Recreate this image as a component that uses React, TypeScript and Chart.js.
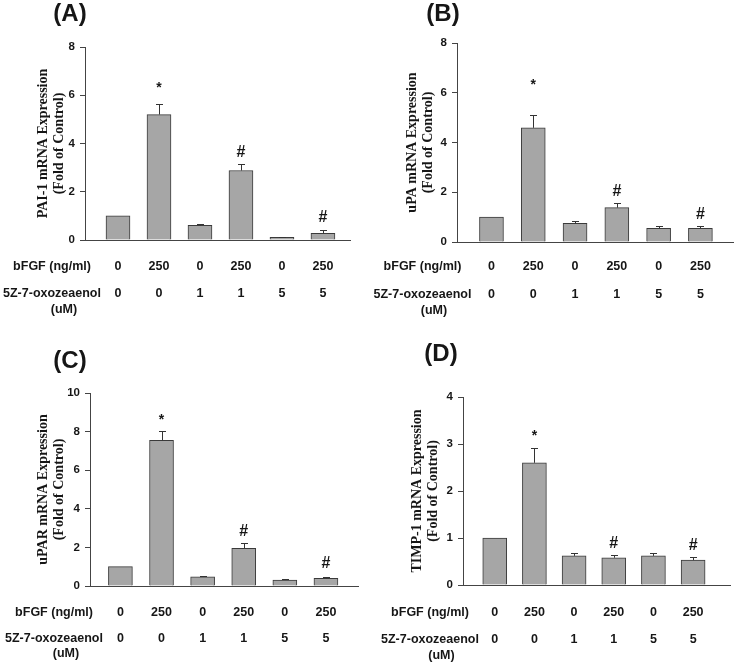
import React, { useEffect, useRef } from "react";
import { Chart, registerables } from "chart.js";

Chart.register(...registerables);

// ---- shared table rows ----
const groupIndex = [0, 1, 2, 3, 4, 5];
const bfgfLevels = ["0", "250", "0", "250", "0", "250"];
const inhibitorLevels = ["0", "0", "1", "1", "5", "5"];
const rowLabelBfgf = "bFGF (ng/ml)";
const rowLabelInhibitor = "5Z-7-oxozeaenol";
const rowLabelUnit = "(uM)";

// ---- (A) PAI-1 ----
const pai1Mean = [1.0, 5.2, 0.61, 2.88, 0.11, 0.28];
const pai1ErrTop = [null, 5.64, 0.66, 3.13, 0.14, 0.41];
const pai1Marks = ["", "*", "", "#", "", "#"];
const pai1MarkAt = [null, 6.41, null, 3.64, null, 0.91];

// ---- (B) uPA ----
const upaMean = [1.0, 4.59, 0.75, 1.38, 0.55, 0.55];
const upaErrTop = [null, 5.1, 0.84, 1.55, 0.64, 0.64];
const upaMarks = ["", "*", "", "#", "", "#"];
const upaMarkAt = [null, 6.43, null, 2.01, null, 1.09];

// ---- (C) uPAR ----
const uparMean = [1.0, 7.55, 0.47, 1.95, 0.31, 0.4];
const uparErrTop = [null, 8.02, 0.52, 2.24, 0.34, 0.45];
const uparMarks = ["", "*", "", "#", "", "#"];
const uparMarkAt = [null, 8.74, null, 2.81, null, 1.14];

// ---- (D) TIMP-1 ----
const timpMean = [1.0, 2.6, 0.62, 0.58, 0.62, 0.53];
const timpErrTop = [null, 2.92, 0.69, 0.64, 0.69, 0.59];
const timpMarks = ["", "*", "", "#", "", "#"];
const timpMarkAt = [null, 3.23, null, 0.89, null, 0.83];

const SANS = "'Liberation Sans', Arial, sans-serif";
const SERIF = "'Liberation Serif', 'Times New Roman', serif";
const INK = "#161616";

type Panel = {
  letter: string;
  yTitle: string[];
  mean: number[];
  errTop: (number | null)[];
  marks: string[];
  markAt: (number | null)[];
  yMax: number;
  yStep: number;
  // layout
  left: number;
  top: number;
  w: number;
  h: number;
  plotL: number;
  plotR: number;
  plotT: number;
  plotB: number;
  xMin: number;
  xMax: number;
  letterX: number;
  letterY: number;
  yTitleX: number;
  labelX: number;
  row1Y: number;
  row2Y: number;
  unitY: number;
  unitX: number;
};

const panels: Panel[] = [
  {
    letter: "(A)",
    yTitle: ["PAI-1 mRNA Expression", "(Fold of Control)"],
    mean: pai1Mean,
    errTop: pai1ErrTop,
    marks: pai1Marks,
    markAt: pai1MarkAt,
    yMax: 8,
    yStep: 2,
    left: 0, top: 0, w: 369, h: 330,
    plotL: 85, plotR: 350, plotT: 47, plotB: 240,
    xMin: -0.805, xMax: 5.66,
    letterX: 70, letterY: 14,
    yTitleX: 43,
    labelX: 52, row1Y: 267, row2Y: 294, unitY: 310, unitX: 64,
  },
  {
    letter: "(B)",
    yTitle: ["uPA mRNA Expression", "(Fold of Control)"],
    mean: upaMean,
    errTop: upaErrTop,
    marks: upaMarks,
    markAt: upaMarkAt,
    yMax: 8,
    yStep: 2,
    left: 369, top: 0, w: 369, h: 330,
    plotL: 88, plotR: 364, plotT: 43, plotB: 242,
    xMin: -0.825, xMax: 5.78,
    letterX: 74, letterY: 14,
    yTitleX: 43,
    labelX: 53.5, row1Y: 267, row2Y: 295, unitY: 311, unitX: 65,
  },
  {
    letter: "(C)",
    yTitle: ["uPAR mRNA Expression", "(Fold of Control)"],
    mean: uparMean,
    errTop: uparErrTop,
    marks: uparMarks,
    markAt: uparMarkAt,
    yMax: 10,
    yStep: 2,
    left: 0, top: 330, w: 369, h: 336,
    plotL: 90, plotR: 358, plotT: 63, plotB: 256,
    xMin: -0.74, xMax: 5.78,
    letterX: 70, letterY: 31,
    yTitleX: 43,
    labelX: 54, row1Y: 283, row2Y: 309, unitY: 324, unitX: 66,
  },
  {
    letter: "(D)",
    yTitle: ["TIMP-1 mRNA Expression", "(Fold of Control)"],
    mean: timpMean,
    errTop: timpErrTop,
    marks: timpMarks,
    markAt: timpMarkAt,
    yMax: 4,
    yStep: 1,
    left: 369, top: 330, w: 369, h: 336,
    plotL: 94, plotR: 361, plotT: 67, plotB: 255,
    xMin: -0.8, xMax: 5.93,
    letterX: 72, letterY: 24,
    yTitleX: 48,
    labelX: 61, row1Y: 283, row2Y: 310, unitY: 326, unitX: 72.5,
  },
];

function decorPlugin(p: Panel) {
  return {
    id: "panelDecor" + p.letter,
    afterDatasetsDraw(chart: any) {
      const { ctx, scales } = chart;
      const x = scales.x;
      const y = scales.y;
      ctx.save();
      // error bars (upper only)
      ctx.strokeStyle = "#333";
      ctx.lineWidth = 1;
      groupIndex.forEach((i) => {
        const e = p.errTop[i];
        if (e == null) return;
        const px = Math.round(x.getPixelForValue(i)) + 0.5;
        const y0 = y.getPixelForValue(p.mean[i]);
        const y1 = Math.round(y.getPixelForValue(e)) + 0.5;
        ctx.beginPath();
        ctx.moveTo(px, y0);
        ctx.lineTo(px, y1);
        ctx.moveTo(px - 3.5, y1);
        ctx.lineTo(px + 3.5, y1);
        ctx.stroke();
      });
      // significance marks
      ctx.fillStyle = INK;
      ctx.textAlign = "center";
      ctx.textBaseline = "middle";
      groupIndex.forEach((i) => {
        const m = p.marks[i];
        const at = p.markAt[i];
        if (!m || at == null) return;
        const py = y.getPixelForValue(at);
        if (m === "*") {
          ctx.font = `bold 14px ${SANS}`;
          ctx.fillText(m, x.getPixelForValue(i), py + 3);
        } else {
          ctx.font = `bold 16px ${SANS}`;
          ctx.fillText(m, x.getPixelForValue(i), py);
        }
      });
      ctx.restore();
    },
    afterDraw(chart: any) {
      const { ctx, scales } = chart;
      const x = scales.x;
      ctx.save();
      ctx.fillStyle = INK;
      // panel letter
      ctx.font = `bold 24px ${SANS}`;
      ctx.textAlign = "center";
      ctx.textBaseline = "middle";
      ctx.fillText(p.letter, p.letterX, p.letterY);
      // treatment table
      ctx.font = `bold 12.5px ${SANS}`;
      ctx.fillText(rowLabelBfgf, p.labelX, p.row1Y);
      ctx.fillText(rowLabelInhibitor, p.labelX, p.row2Y);
      ctx.fillText(rowLabelUnit, p.unitX, p.unitY);
      groupIndex.forEach((i) => {
        const px = x.getPixelForValue(i);
        ctx.fillText(bfgfLevels[i], px, p.row1Y);
        ctx.fillText(inhibitorLevels[i], px, p.row2Y);
      });
      ctx.restore();
    },
  };
}

function PanelChart({ p }: { p: Panel }) {
  const ref = useRef<HTMLCanvasElement | null>(null);
  useEffect(() => {
    if (!ref.current) return;
    const chart = new Chart(ref.current, {
      type: "bar",
      data: {
        datasets: [
          {
            data: groupIndex.map((i) => ({ x: i, y: p.mean[i] })),
            backgroundColor: "#a6a6a6",
            borderColor: "#3a3a3a",
            borderWidth: 1,
            barThickness: 24,
          } as any,
        ],
      },
      options: {
        animation: false,
        responsive: false,
        devicePixelRatio: 1,
        layout: {
          padding: { left: 0, top: p.plotT, right: p.w - p.plotR, bottom: 0 },
        },
        plugins: {
          legend: { display: false },
          tooltip: { enabled: false },
          title: { display: false },
        },
        scales: {
          x: {
            type: "linear",
            min: p.xMin,
            max: p.xMax,
            bounds: "data",
            offset: false,
            ticks: { display: false },
            grid: { display: false },
            border: { display: true, color: "#444", width: 1 },
            afterFit: (s: any) => {
              s.height = p.h - p.plotB;
            },
          },
          y: {
            min: 0,
            max: p.yMax,
            ticks: {
              stepSize: p.yStep,
              color: INK,
              padding: 5,
              font: { family: SANS, size: 11.5, weight: "bold" },
            },
            grid: {
              display: true,
              drawOnChartArea: false,
              drawTicks: true,
              tickLength: 5,
              color: "#444",
            },
            border: { display: true, color: "#444", width: 1 },
            title: {
              display: true,
              text: p.yTitle,
              color: INK,
              font: { family: SERIF, size: 14, weight: "bold", lineHeight: 1.2 },
              padding: { top: p.yTitleX - 8.4, bottom: 0 },
            },
            afterFit: (s: any) => {
              s.width = p.plotL;
            },
          },
        },
      } as any,
      plugins: [decorPlugin(p)],
    });
    return () => chart.destroy();
  }, [p]);
  return (
    <canvas
      ref={ref}
      width={p.w}
      height={p.h}
      style={{
        position: "absolute",
        left: p.left,
        top: p.top,
        width: p.w,
        height: p.h,
      }}
    />
  );
}

export default function App() {
  return (
    <div
      style={{
        position: "fixed",
        left: 0,
        top: 0,
        width: 738,
        height: 666,
        background: "#ffffff",
        overflow: "hidden",
      }}
    >
      {panels.map((p) => (
        <PanelChart key={p.letter} p={p} />
      ))}
    </div>
  );
}
